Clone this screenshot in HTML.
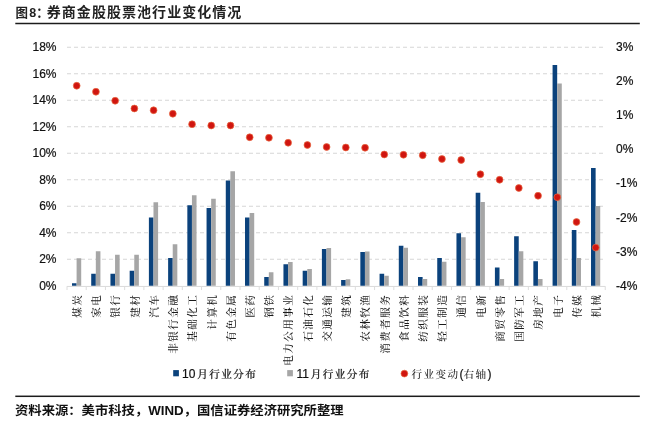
<!DOCTYPE html>
<html lang="zh-CN">
<head>
<meta charset="utf-8">
<title>图8：券商金股股票池行业变化情况</title>
<style>
html,body{margin:0;padding:0;background:#fff;}
body{width:648px;height:421px;position:relative;overflow:hidden;font-family:"Liberation Sans","Noto Sans CJK SC",sans-serif;color:#1a1a1a;}
.title{position:absolute;left:15.5px;top:1.7px;height:20px;line-height:20px;white-space:nowrap;font-weight:bold;font-size:14px;letter-spacing:1.05px;color:#222;}
.title .fig{font-size:12.5px;letter-spacing:0;display:inline-block;transform:scaleY(1.02);transform-origin:0 60%;margin-right:-2px;}
.rule{position:absolute;left:15px;width:618px;height:1px;background:#222;}
.src{position:absolute;left:15.2px;top:400.7px;height:20px;line-height:20px;white-space:nowrap;font-weight:bold;font-size:12.4px;color:#111;transform:scaleX(1.075);transform-origin:0 50%;}
svg .ax{letter-spacing:0;stroke:#111;stroke-width:0.2px;font-family:"Liberation Sans",sans-serif;font-size:12px;fill:#111;}
svg .kai{font-family:"Liberation Sans","Noto Serif CJK SC",serif;font-size:10.6px;font-weight:500;letter-spacing:1.4px;fill:#1a1a1a;}
</style>
</head>
<body>
<div class="title"><span class="fig"><span style="letter-spacing:1.3px">图</span>8：</span>券商金股股票池行业变化情况</div>

<svg width="648" height="421" viewBox="0 0 648 421" style="position:absolute;left:0;top:0">
<line x1="67.0" y1="259.25" x2="605.3" y2="259.25" stroke="#d6d6d6" stroke-width="1" stroke-dasharray="4 3"/>
<line x1="67.0" y1="232.75" x2="605.3" y2="232.75" stroke="#d6d6d6" stroke-width="1" stroke-dasharray="4 3"/>
<line x1="67.0" y1="206.25" x2="605.3" y2="206.25" stroke="#d6d6d6" stroke-width="1" stroke-dasharray="4 3"/>
<line x1="67.0" y1="179.75" x2="605.3" y2="179.75" stroke="#d6d6d6" stroke-width="1" stroke-dasharray="4 3"/>
<line x1="67.0" y1="153.25" x2="605.3" y2="153.25" stroke="#d6d6d6" stroke-width="1" stroke-dasharray="4 3"/>
<line x1="67.0" y1="126.75" x2="605.3" y2="126.75" stroke="#d6d6d6" stroke-width="1" stroke-dasharray="4 3"/>
<line x1="67.0" y1="100.25" x2="605.3" y2="100.25" stroke="#d6d6d6" stroke-width="1" stroke-dasharray="4 3"/>
<line x1="67.0" y1="73.75" x2="605.3" y2="73.75" stroke="#d6d6d6" stroke-width="1" stroke-dasharray="4 3"/>
<line x1="67.0" y1="47.25" x2="605.3" y2="47.25" stroke="#d6d6d6" stroke-width="1" stroke-dasharray="4 3"/>
<line x1="67.0" y1="286.45" x2="605.3" y2="286.45" stroke="#dadada" stroke-width="1"/>
<line x1="67.00" y1="286.25" x2="67.00" y2="290.05" stroke="#dcdcdc" stroke-width="1"/>
<line x1="86.22" y1="286.25" x2="86.22" y2="290.05" stroke="#dcdcdc" stroke-width="1"/>
<line x1="105.45" y1="286.25" x2="105.45" y2="290.05" stroke="#dcdcdc" stroke-width="1"/>
<line x1="124.67" y1="286.25" x2="124.67" y2="290.05" stroke="#dcdcdc" stroke-width="1"/>
<line x1="143.89" y1="286.25" x2="143.89" y2="290.05" stroke="#dcdcdc" stroke-width="1"/>
<line x1="163.12" y1="286.25" x2="163.12" y2="290.05" stroke="#dcdcdc" stroke-width="1"/>
<line x1="182.34" y1="286.25" x2="182.34" y2="290.05" stroke="#dcdcdc" stroke-width="1"/>
<line x1="201.56" y1="286.25" x2="201.56" y2="290.05" stroke="#dcdcdc" stroke-width="1"/>
<line x1="220.78" y1="286.25" x2="220.78" y2="290.05" stroke="#dcdcdc" stroke-width="1"/>
<line x1="240.01" y1="286.25" x2="240.01" y2="290.05" stroke="#dcdcdc" stroke-width="1"/>
<line x1="259.23" y1="286.25" x2="259.23" y2="290.05" stroke="#dcdcdc" stroke-width="1"/>
<line x1="278.45" y1="286.25" x2="278.45" y2="290.05" stroke="#dcdcdc" stroke-width="1"/>
<line x1="297.68" y1="286.25" x2="297.68" y2="290.05" stroke="#dcdcdc" stroke-width="1"/>
<line x1="316.90" y1="286.25" x2="316.90" y2="290.05" stroke="#dcdcdc" stroke-width="1"/>
<line x1="336.12" y1="286.25" x2="336.12" y2="290.05" stroke="#dcdcdc" stroke-width="1"/>
<line x1="355.34" y1="286.25" x2="355.34" y2="290.05" stroke="#dcdcdc" stroke-width="1"/>
<line x1="374.57" y1="286.25" x2="374.57" y2="290.05" stroke="#dcdcdc" stroke-width="1"/>
<line x1="393.79" y1="286.25" x2="393.79" y2="290.05" stroke="#dcdcdc" stroke-width="1"/>
<line x1="413.01" y1="286.25" x2="413.01" y2="290.05" stroke="#dcdcdc" stroke-width="1"/>
<line x1="432.24" y1="286.25" x2="432.24" y2="290.05" stroke="#dcdcdc" stroke-width="1"/>
<line x1="451.46" y1="286.25" x2="451.46" y2="290.05" stroke="#dcdcdc" stroke-width="1"/>
<line x1="470.68" y1="286.25" x2="470.68" y2="290.05" stroke="#dcdcdc" stroke-width="1"/>
<line x1="489.91" y1="286.25" x2="489.91" y2="290.05" stroke="#dcdcdc" stroke-width="1"/>
<line x1="509.13" y1="286.25" x2="509.13" y2="290.05" stroke="#dcdcdc" stroke-width="1"/>
<line x1="528.35" y1="286.25" x2="528.35" y2="290.05" stroke="#dcdcdc" stroke-width="1"/>
<line x1="547.58" y1="286.25" x2="547.58" y2="290.05" stroke="#dcdcdc" stroke-width="1"/>
<line x1="566.80" y1="286.25" x2="566.80" y2="290.05" stroke="#dcdcdc" stroke-width="1"/>
<line x1="586.02" y1="286.25" x2="586.02" y2="290.05" stroke="#dcdcdc" stroke-width="1"/>
<line x1="605.24" y1="286.25" x2="605.24" y2="290.05" stroke="#dcdcdc" stroke-width="1"/>
<rect x="72.00" y="283.25" width="4.6" height="2.50" fill="#0b427c"/>
<rect x="76.60" y="258.25" width="4.6" height="27.50" fill="#a6a6a6"/>
<rect x="91.22" y="273.75" width="4.6" height="12.00" fill="#0b427c"/>
<rect x="95.82" y="251.25" width="4.6" height="34.50" fill="#a6a6a6"/>
<rect x="110.45" y="273.75" width="4.6" height="12.00" fill="#0b427c"/>
<rect x="115.05" y="254.75" width="4.6" height="31.00" fill="#a6a6a6"/>
<rect x="129.67" y="270.75" width="4.6" height="15.00" fill="#0b427c"/>
<rect x="134.27" y="254.75" width="4.6" height="31.00" fill="#a6a6a6"/>
<rect x="148.89" y="217.50" width="4.6" height="68.25" fill="#0b427c"/>
<rect x="153.49" y="202.25" width="4.6" height="83.50" fill="#a6a6a6"/>
<rect x="168.12" y="258.00" width="4.6" height="27.75" fill="#0b427c"/>
<rect x="172.72" y="244.25" width="4.6" height="41.50" fill="#a6a6a6"/>
<rect x="187.34" y="205.25" width="4.6" height="80.50" fill="#0b427c"/>
<rect x="191.94" y="195.25" width="4.6" height="90.50" fill="#a6a6a6"/>
<rect x="206.56" y="208.00" width="4.6" height="77.75" fill="#0b427c"/>
<rect x="211.16" y="198.75" width="4.6" height="87.00" fill="#a6a6a6"/>
<rect x="225.78" y="180.50" width="4.6" height="105.25" fill="#0b427c"/>
<rect x="230.38" y="171.25" width="4.6" height="114.50" fill="#a6a6a6"/>
<rect x="245.01" y="217.50" width="4.6" height="68.25" fill="#0b427c"/>
<rect x="249.61" y="213.00" width="4.6" height="72.75" fill="#a6a6a6"/>
<rect x="264.23" y="277.00" width="4.6" height="8.75" fill="#0b427c"/>
<rect x="268.83" y="272.25" width="4.6" height="13.50" fill="#a6a6a6"/>
<rect x="283.45" y="264.25" width="4.6" height="21.50" fill="#0b427c"/>
<rect x="288.05" y="262.00" width="4.6" height="23.75" fill="#a6a6a6"/>
<rect x="302.68" y="270.75" width="4.6" height="15.00" fill="#0b427c"/>
<rect x="307.28" y="269.00" width="4.6" height="16.75" fill="#a6a6a6"/>
<rect x="321.90" y="249.00" width="4.6" height="36.75" fill="#0b427c"/>
<rect x="326.50" y="248.00" width="4.6" height="37.75" fill="#a6a6a6"/>
<rect x="341.12" y="280.00" width="4.6" height="5.75" fill="#0b427c"/>
<rect x="345.72" y="279.25" width="4.6" height="6.50" fill="#a6a6a6"/>
<rect x="360.34" y="252.00" width="4.6" height="33.75" fill="#0b427c"/>
<rect x="364.94" y="251.50" width="4.6" height="34.25" fill="#a6a6a6"/>
<rect x="379.57" y="273.75" width="4.6" height="12.00" fill="#0b427c"/>
<rect x="384.17" y="275.75" width="4.6" height="10.00" fill="#a6a6a6"/>
<rect x="398.79" y="245.75" width="4.6" height="40.00" fill="#0b427c"/>
<rect x="403.39" y="247.75" width="4.6" height="38.00" fill="#a6a6a6"/>
<rect x="418.01" y="277.00" width="4.6" height="8.75" fill="#0b427c"/>
<rect x="422.61" y="279.00" width="4.6" height="6.75" fill="#a6a6a6"/>
<rect x="437.24" y="258.00" width="4.6" height="27.75" fill="#0b427c"/>
<rect x="441.84" y="261.75" width="4.6" height="24.00" fill="#a6a6a6"/>
<rect x="456.46" y="233.25" width="4.6" height="52.50" fill="#0b427c"/>
<rect x="461.06" y="237.25" width="4.6" height="48.50" fill="#a6a6a6"/>
<rect x="475.68" y="192.75" width="4.6" height="93.00" fill="#0b427c"/>
<rect x="480.28" y="202.00" width="4.6" height="83.75" fill="#a6a6a6"/>
<rect x="494.91" y="267.50" width="4.6" height="18.25" fill="#0b427c"/>
<rect x="499.51" y="279.00" width="4.6" height="6.75" fill="#a6a6a6"/>
<rect x="514.13" y="236.25" width="4.6" height="49.50" fill="#0b427c"/>
<rect x="518.73" y="251.25" width="4.6" height="34.50" fill="#a6a6a6"/>
<rect x="533.35" y="261.25" width="4.6" height="24.50" fill="#0b427c"/>
<rect x="537.95" y="279.00" width="4.6" height="6.75" fill="#a6a6a6"/>
<rect x="552.58" y="65.00" width="4.6" height="220.75" fill="#0b427c"/>
<rect x="557.18" y="83.50" width="4.6" height="202.25" fill="#a6a6a6"/>
<rect x="571.80" y="230.00" width="4.6" height="55.75" fill="#0b427c"/>
<rect x="576.40" y="258.00" width="4.6" height="27.75" fill="#a6a6a6"/>
<rect x="591.02" y="168.00" width="4.6" height="117.75" fill="#0b427c"/>
<rect x="595.62" y="206.00" width="4.6" height="79.75" fill="#a6a6a6"/>
<circle cx="76.71" cy="85.75" r="3.4" fill="#d01510" stroke="#ea6a40" stroke-width="0.7"/>
<circle cx="95.93" cy="91.75" r="3.4" fill="#d01510" stroke="#ea6a40" stroke-width="0.7"/>
<circle cx="115.16" cy="100.75" r="3.4" fill="#d01510" stroke="#ea6a40" stroke-width="0.7"/>
<circle cx="134.38" cy="108.50" r="3.4" fill="#d01510" stroke="#ea6a40" stroke-width="0.7"/>
<circle cx="153.60" cy="110.25" r="3.4" fill="#d01510" stroke="#ea6a40" stroke-width="0.7"/>
<circle cx="172.83" cy="113.75" r="3.4" fill="#d01510" stroke="#ea6a40" stroke-width="0.7"/>
<circle cx="192.05" cy="124.25" r="3.4" fill="#d01510" stroke="#ea6a40" stroke-width="0.7"/>
<circle cx="211.27" cy="125.50" r="3.4" fill="#d01510" stroke="#ea6a40" stroke-width="0.7"/>
<circle cx="230.50" cy="125.50" r="3.4" fill="#d01510" stroke="#ea6a40" stroke-width="0.7"/>
<circle cx="249.72" cy="137.25" r="3.4" fill="#d01510" stroke="#ea6a40" stroke-width="0.7"/>
<circle cx="268.94" cy="137.75" r="3.4" fill="#d01510" stroke="#ea6a40" stroke-width="0.7"/>
<circle cx="288.16" cy="142.75" r="3.4" fill="#d01510" stroke="#ea6a40" stroke-width="0.7"/>
<circle cx="307.39" cy="145.00" r="3.4" fill="#d01510" stroke="#ea6a40" stroke-width="0.7"/>
<circle cx="326.61" cy="147.00" r="3.4" fill="#d01510" stroke="#ea6a40" stroke-width="0.7"/>
<circle cx="345.83" cy="147.50" r="3.4" fill="#d01510" stroke="#ea6a40" stroke-width="0.7"/>
<circle cx="365.06" cy="147.75" r="3.4" fill="#d01510" stroke="#ea6a40" stroke-width="0.7"/>
<circle cx="384.28" cy="154.50" r="3.4" fill="#d01510" stroke="#ea6a40" stroke-width="0.7"/>
<circle cx="403.50" cy="154.75" r="3.4" fill="#d01510" stroke="#ea6a40" stroke-width="0.7"/>
<circle cx="422.73" cy="155.25" r="3.4" fill="#d01510" stroke="#ea6a40" stroke-width="0.7"/>
<circle cx="441.95" cy="159.00" r="3.4" fill="#d01510" stroke="#ea6a40" stroke-width="0.7"/>
<circle cx="461.17" cy="160.00" r="3.4" fill="#d01510" stroke="#ea6a40" stroke-width="0.7"/>
<circle cx="480.39" cy="174.25" r="3.4" fill="#d01510" stroke="#ea6a40" stroke-width="0.7"/>
<circle cx="499.62" cy="179.75" r="3.4" fill="#d01510" stroke="#ea6a40" stroke-width="0.7"/>
<circle cx="518.84" cy="188.00" r="3.4" fill="#d01510" stroke="#ea6a40" stroke-width="0.7"/>
<circle cx="538.06" cy="195.75" r="3.4" fill="#d01510" stroke="#ea6a40" stroke-width="0.7"/>
<circle cx="557.29" cy="197.25" r="3.4" fill="#d01510" stroke="#ea6a40" stroke-width="0.7"/>
<circle cx="576.51" cy="222.00" r="3.4" fill="#d01510" stroke="#ea6a40" stroke-width="0.7"/>
<circle cx="595.73" cy="247.60" r="3.4" fill="#d01510" stroke="#ea6a40" stroke-width="0.7"/>
<text x="56.5" y="289.65" text-anchor="end" class="ax">0%</text>
<text x="56.5" y="263.15" text-anchor="end" class="ax">2%</text>
<text x="56.5" y="236.65" text-anchor="end" class="ax">4%</text>
<text x="56.5" y="210.15" text-anchor="end" class="ax">6%</text>
<text x="56.5" y="183.65" text-anchor="end" class="ax">8%</text>
<text x="56.5" y="157.15" text-anchor="end" class="ax">10%</text>
<text x="56.5" y="130.65" text-anchor="end" class="ax">12%</text>
<text x="56.5" y="104.15" text-anchor="end" class="ax">14%</text>
<text x="56.5" y="77.65" text-anchor="end" class="ax">16%</text>
<text x="56.5" y="51.15" text-anchor="end" class="ax">18%</text>
<text x="616" y="289.65" class="ax">-4%</text>
<text x="616" y="255.58" class="ax">-3%</text>
<text x="616" y="221.51" class="ax">-2%</text>
<text x="616" y="187.44" class="ax">-1%</text>
<text x="616" y="153.36" class="ax">0%</text>
<text x="616" y="119.29" class="ax">1%</text>
<text x="616" y="85.22" class="ax">2%</text>
<text x="616" y="51.15" class="ax">3%</text>
<text transform="translate(77.01,293.8) rotate(-90)" text-anchor="end" dominant-baseline="central" class="kai">煤炭</text>
<text transform="translate(96.23,293.8) rotate(-90)" text-anchor="end" dominant-baseline="central" class="kai">家电</text>
<text transform="translate(115.46,293.8) rotate(-90)" text-anchor="end" dominant-baseline="central" class="kai">银行</text>
<text transform="translate(134.68,293.8) rotate(-90)" text-anchor="end" dominant-baseline="central" class="kai">建材</text>
<text transform="translate(153.90,293.8) rotate(-90)" text-anchor="end" dominant-baseline="central" class="kai">汽车</text>
<text transform="translate(173.13,293.8) rotate(-90)" text-anchor="end" dominant-baseline="central" class="kai">非银行金融</text>
<text transform="translate(192.35,293.8) rotate(-90)" text-anchor="end" dominant-baseline="central" class="kai">基础化工</text>
<text transform="translate(211.57,293.8) rotate(-90)" text-anchor="end" dominant-baseline="central" class="kai">计算机</text>
<text transform="translate(230.80,293.8) rotate(-90)" text-anchor="end" dominant-baseline="central" class="kai">有色金属</text>
<text transform="translate(250.02,293.8) rotate(-90)" text-anchor="end" dominant-baseline="central" class="kai">医药</text>
<text transform="translate(269.24,293.8) rotate(-90)" text-anchor="end" dominant-baseline="central" class="kai">钢铁</text>
<text transform="translate(288.46,293.8) rotate(-90)" text-anchor="end" dominant-baseline="central" class="kai">电力公用事业</text>
<text transform="translate(307.69,293.8) rotate(-90)" text-anchor="end" dominant-baseline="central" class="kai">石油石化</text>
<text transform="translate(326.91,293.8) rotate(-90)" text-anchor="end" dominant-baseline="central" class="kai">交通运输</text>
<text transform="translate(346.13,293.8) rotate(-90)" text-anchor="end" dominant-baseline="central" class="kai">建筑</text>
<text transform="translate(365.36,293.8) rotate(-90)" text-anchor="end" dominant-baseline="central" class="kai">农林牧渔</text>
<text transform="translate(384.58,293.8) rotate(-90)" text-anchor="end" dominant-baseline="central" class="kai">消费者服务</text>
<text transform="translate(403.80,293.8) rotate(-90)" text-anchor="end" dominant-baseline="central" class="kai">食品饮料</text>
<text transform="translate(423.03,293.8) rotate(-90)" text-anchor="end" dominant-baseline="central" class="kai">纺织服装</text>
<text transform="translate(442.25,293.8) rotate(-90)" text-anchor="end" dominant-baseline="central" class="kai">轻工制造</text>
<text transform="translate(461.47,293.8) rotate(-90)" text-anchor="end" dominant-baseline="central" class="kai">通信</text>
<text transform="translate(480.69,293.8) rotate(-90)" text-anchor="end" dominant-baseline="central" class="kai">电新</text>
<text transform="translate(499.92,293.8) rotate(-90)" text-anchor="end" dominant-baseline="central" class="kai">商贸零售</text>
<text transform="translate(519.14,293.8) rotate(-90)" text-anchor="end" dominant-baseline="central" class="kai">国防军工</text>
<text transform="translate(538.36,293.8) rotate(-90)" text-anchor="end" dominant-baseline="central" class="kai">房地产</text>
<text transform="translate(557.59,293.8) rotate(-90)" text-anchor="end" dominant-baseline="central" class="kai">电子</text>
<text transform="translate(576.81,293.8) rotate(-90)" text-anchor="end" dominant-baseline="central" class="kai">传媒</text>
<text transform="translate(596.03,293.8) rotate(-90)" text-anchor="end" dominant-baseline="central" class="kai">机械</text>
<rect x="173.2" y="370.1" width="5.7" height="6.2" fill="#0b427c"/>
<text x="182.0" y="377.6" class="ax">10<tspan class="kai" dx="1.9">月行业分布</tspan></text>
<rect x="287.2" y="370.1" width="5.7" height="6.2" fill="#a6a6a6"/>
<text x="296.5" y="377.6" class="ax">11<tspan class="kai" dx="1.8">月行业分布</tspan></text>
<circle cx="404.4" cy="373.6" r="3.4" fill="#d01510" stroke="#ea6a40" stroke-width="0.7"/>
<text x="411.5" y="377.8" class="kai">行业变动<tspan class="ax">(</tspan>右轴<tspan class="ax">)</tspan></text>
<rect x="15.3" y="395.55" width="624.5" height="1.5" fill="#1c1c1c"/>
<rect x="15.3" y="22.75" width="624.5" height="1.5" fill="#1c1c1c"/>
</svg>

<div class="src">资料来源：美市科技，WIND，国信证券经济研究所整理</div>
</body>
</html>
